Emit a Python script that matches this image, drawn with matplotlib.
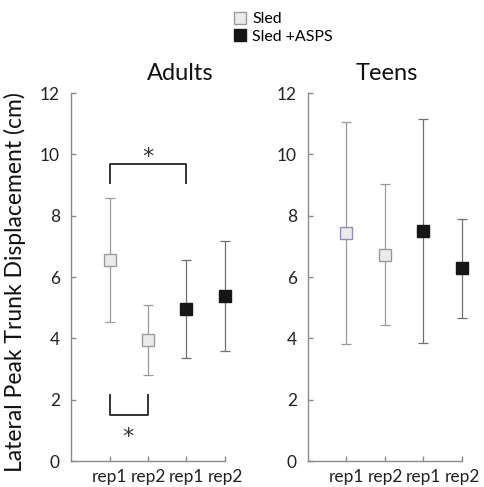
import matplotlib
matplotlib.use("Agg")
import matplotlib.pyplot as plt
from matplotlib.lines import Line2D

plt.rcParams['font.family'] = ['Lato', 'DejaVu Sans']

tick_labels = ["rep1", "rep2", "rep1", "rep2"]
conditions = ["Sled", "Sled", "Sled +ASPS", "Sled +ASPS"]

adults_mean = [6.55, 3.96, 4.95, 5.38]
adults_upper = [8.58, 5.10, 6.55, 7.18]
adults_lower = [4.54, 2.80, 3.35, 3.59]

teens_mean = [7.45, 6.73, 7.50, 6.28]
teens_upper = [11.06, 9.02, 11.14, 7.88]
teens_lower = [3.80, 4.45, 3.85, 4.67]

sig_top = dict(x1=1, x2=3, y=9.68, drop=9.05, star_x=2.0, star_y=10.1)
sig_bottom = dict(x1=1, x2=2, y=1.5, rise=2.15, star_x=1.47, star_y=0.95)

fig = plt.figure(figsize=(4.85, 4.87), dpi=100)
axL = fig.add_axes([71/485, 1-461/487, 154/485, 368/487])
axR = fig.add_axes([308/485, 1-461/487, 154/485, 368/487])

spine_col = "#8a8a8a"
sled_face = "#ebebeb"
sled_edge = "#9a9a9a"
asps_face = "#161616"

def draw(ax, mean, upper, lower, edge_override=None):
    xs = list(range(1, len(mean) + 1))
    for i, x in enumerate(xs):
        is_sled = conditions[i] == "Sled"
        ecol = "#9a9a9a" if is_sled else "#707070"
        eb = ax.errorbar([x], [mean[i]],
                         yerr=[[mean[i] - lower[i]], [upper[i] - mean[i]]],
                         fmt='none', ecolor=ecol, elinewidth=0.9, capsize=3.5,
                         capthick=0.9, zorder=2)
        for art in eb.lines[1]:
            art.set_clip_on(False)
        for art in eb.lines[2]:
            art.set_clip_on(False)
        fc = sled_face if is_sled else asps_face
        ec = sled_edge if is_sled else asps_face
        if edge_override and i in edge_override:
            ec = edge_override[i]
        ax.plot([x], [mean[i]], marker='s', markersize=8.5, markerfacecolor=fc,
                markeredgecolor=ec, markeredgewidth=1.0, linestyle='none',
                zorder=3, clip_on=False)
    ax.set_xlim(0, 4)
    ax.set_ylim(0, 12)
    ax.set_xticks(xs)
    ax.set_xticklabels(tick_labels, fontsize=12.5, color="#222222")
    ax.set_yticks(range(0, 13, 2))
    ax.set_yticklabels([str(v) for v in range(0, 13, 2)], fontsize=12.5, color="#222222")
    for s in ["top", "right"]:
        ax.spines[s].set_visible(False)
    for s in ["left", "bottom"]:
        ax.spines[s].set_color(spine_col)
        ax.spines[s].set_linewidth(1.0)
    ax.tick_params(direction='in', length=3.5, width=1.0, color=spine_col, pad=8)
    ax.tick_params(axis='x', pad=6)
    ax.patch.set_alpha(0)

draw(axL, adults_mean, adults_upper, adults_lower)
draw(axR, teens_mean, teens_upper, teens_lower, edge_override={0: "#8f8fb5"})

bc = "#333333"
star_kw = dict(ha='center', va='center_baseline', fontsize=16, color=bc,
               family='DejaVu Sans')
axL.plot([sig_top['x1'], sig_top['x1'], sig_top['x2'], sig_top['x2']],
         [sig_top['drop'], sig_top['y'], sig_top['y'], sig_top['drop']],
         color=bc, lw=1.4, clip_on=False)
axL.annotate("*", (sig_top['star_x'], sig_top['star_y']), xytext=(0, -2.5),
             textcoords='offset points', **star_kw)
axL.plot([sig_bottom['x1'], sig_bottom['x1'], sig_bottom['x2'], sig_bottom['x2']],
         [sig_bottom['rise'], sig_bottom['y'], sig_bottom['y'], sig_bottom['rise']],
         color=bc, lw=1.4, clip_on=False)
axL.annotate("*", (sig_bottom['star_x'], sig_bottom['star_y']), xytext=(0, -2.5),
             textcoords='offset points', **star_kw)

fig.text(180/485, 1-74/487, "Adults", ha='center', va='center', fontsize=17, color="#111111")
fig.text(387/485, 1-74/487, "Teens", ha='center', va='center', fontsize=17, color="#111111")
fig.text(15/485, 1-282/487, "Lateral Peak Trunk Displacement (cm)", rotation=90,
         ha='center', va='center', fontsize=16.5, color="#111111")

handles = [
    Line2D([], [], marker='s', linestyle='none', markersize=8,
           markerfacecolor=sled_face, markeredgecolor=sled_edge, label="Sled"),
    Line2D([], [], marker='s', linestyle='none', markersize=8,
           markerfacecolor=asps_face, markeredgecolor=asps_face, label="Sled +ASPS"),
]
fig.legend(handles=handles, loc='upper left', bbox_to_anchor=(222/485, 1-1/487),
           frameon=False, fontsize=11.5, handlelength=0.8, handletextpad=0.4,
           labelspacing=0.2, borderpad=0.2)

fig.savefig("out.png", dpi=100)
